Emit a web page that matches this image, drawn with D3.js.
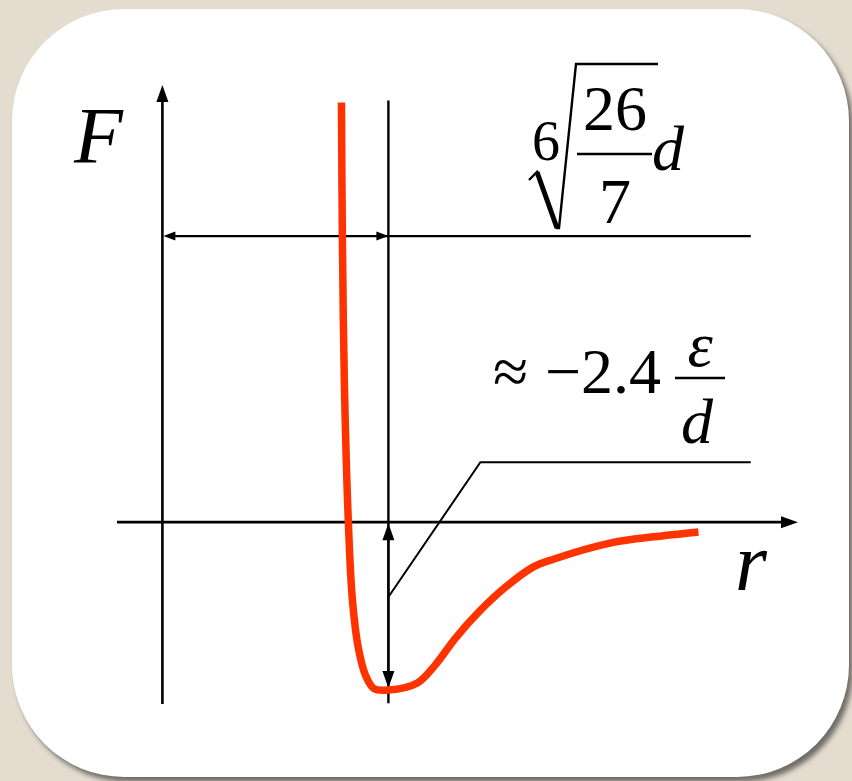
<!DOCTYPE html>
<html>
<head>
<meta charset="utf-8">
<script src="https://cdn.jsdelivr.net/npm/d3@7"></script>
<style>
  svg text { font-family: "Liberation Serif", Tinos, "Times New Roman", serif !important; }
</style>
</head>
<body style="margin:0; background-color:#e3dccf; background-image: radial-gradient(ellipse 220px 90px at 60px 60px, rgba(160,150,130,0.18), rgba(160,150,130,0)), radial-gradient(ellipse 160px 260px at 20px 460px, rgba(170,160,140,0.2), rgba(170,160,140,0)), radial-gradient(ellipse 200px 120px at 820px 720px, rgba(150,140,120,0.18), rgba(150,140,120,0)), radial-gradient(ellipse 300px 40px at 520px 4px, rgba(170,160,140,0.15), rgba(170,160,140,0));">
<div id="card" style="position:absolute; left:12px; top:9px; width:837px; height:768px; border-radius:112px; background:#fff; box-shadow:4px 5px 5px rgba(0,0,0,0.5);"></div>
<script>
// Lennard-Jones force between two molecules, F(r), in units of ε/d against r in units of d.
const rValues     = [0.986, 0.991, 1.002, 1.024, 1.046, 1.079, 1.12, 1.165, 1.2445, 1.404, 1.503, 1.613, 1.740, 1.889, 2.043, 2.153, 2.483, 2.704, 2.952];
const forceValues = [6.0,   4.1,   2.0,   0,     -1.1,  -1.8,  -2.2, -2.38, -2.4,   -2.30, -2.04, -1.66, -1.29, -0.93, -0.64, -0.53, -0.29, -0.21, -0.14];

// Equilibrium-force distance (26/7)^(1/6) d and the minimum force there.
const rMin = Math.pow(26 / 7, 1 / 6);
const fMin = -2.4;

// Axis extents (data units).
const rExtent = [-0.25, 3.5];
const fExtent = [-2.6, 6.25];

(function drawForceDiagram() {
  const W = 852, H = 781;
  const svg = d3.select("body").append("svg")
    .attr("width", W).attr("height", H)
    .style("position", "absolute").style("left", "0px").style("top", "0px");

  const xScale = d3.scaleLinear().domain(rExtent).range([117, 798]);
  const yScale = d3.scaleLinear().domain(fExtent).range([704, 85]);

  const layer = svg.append("g");

  function arrowHead(tipX, tipY, dirX, dirY, len, half) {
    const bx = tipX - dirX * len, by = tipY - dirY * len;
    const px = -dirY, py = dirX;
    layer.append("path")
      .attr("d", `M${tipX},${tipY}L${bx + px * half},${by + py * half}L${bx - px * half},${by - py * half}Z`)
      .attr("fill", "#000");
  }
  function seg(x1, y1, x2, y2, w) {
    layer.append("line").attr("x1", x1).attr("y1", y1).attr("x2", x2).attr("y2", y2)
      .attr("stroke", "#000").attr("stroke-width", w);
  }
  function mathText(xp, yp, size, str, italic, anchor) {
    const t = layer.append("text").attr("x", xp).attr("y", yp)
      .attr("font-family", "Liberation Serif, Tinos, Times New Roman, serif")
      .style("font-family", "Liberation Serif, Tinos, Times New Roman, serif", "important")
      .attr("font-size", size);
    if (italic) t.attr("font-style", "italic");
    if (anchor) t.attr("text-anchor", anchor);
    return t.text(str);
  }

  // F axis (vertical) with arrow
  seg(xScale(0), yScale(fExtent[0]), xScale(0), yScale(fExtent[1]) + 14, 2.6);
  arrowHead(xScale(0), yScale(fExtent[1]), 0, -1, 17, 6);

  // r axis (horizontal) with arrow
  seg(xScale(rExtent[0]), yScale(0), xScale(rExtent[1]) - 14, yScale(0), 2.6);
  arrowHead(xScale(rExtent[1]), yScale(0), 1, 0, 17, 6);

  // Vertical marker at r = rMin
  seg(xScale(rMin), yScale(6.03), xScale(rMin), yScale(-2.59), 2.4);

  // Dimension line for rMin
  const fDim = 4.09;
  seg(xScale(0) + 8, yScale(fDim), xScale(3.24), yScale(fDim), 2.2);
  arrowHead(xScale(0) + 1, yScale(fDim), -1, 0, 12, 4.5);
  arrowHead(xScale(rMin), yScale(fDim), 1, 0, 12, 4.5);

  // Double arrow for the minimum force
  seg(xScale(rMin), yScale(0) + 10, xScale(rMin), yScale(fMin) - 10, 2.2);
  arrowHead(xScale(rMin), yScale(0) + 1, 0, -1, 17, 6);
  arrowHead(xScale(rMin), yScale(fMin) - 2, 0, 1, 17, 6);

  // Leader from the minimum-force label
  layer.append("path")
    .attr("d", `M${xScale(3.24)},${yScale(0.857)}L${xScale(1.751)},${yScale(0.857)}L${xScale(rMin)},${yScale(-1.07)}`)
    .attr("fill", "none").attr("stroke", "#000").attr("stroke-width", 2);

  // Force curve
  const pts = rValues.map((r, i) => [r, forceValues[i]]);
  layer.append("path")
    .datum(pts)
    .attr("d", d3.line().x(d => xScale(d[0])).y(d => yScale(d[1])).curve(d3.curveCatmullRom.alpha(0.5)))
    .attr("fill", "none").attr("stroke", "#ff3300").attr("stroke-width", 7.5)
    .attr("stroke-linejoin", "round");

  // Axis letters
  mathText(74, 163, 80, "F", true);
  mathText(735, 590, 82, "r", true);

  // Label: sixth root of 26/7 times d
  mathText(532, 160, 56, "6");
  layer.append("path")
    .attr("d", "M529,180 L537,172 L557,228 L559,228 L576,64 L658,64")
    .attr("fill", "none").attr("stroke", "#000").attr("stroke-width", 2.4).attr("stroke-linejoin", "miter");
  layer.append("path").attr("d", "M537,172 L557,228").attr("stroke", "#000").attr("stroke-width", 5);
  mathText(615, 130, 64, "26", false, "middle");
  seg(577, 154, 652, 154, 2.6);
  mathText(615, 223, 64, "7", false, "middle");
  mathText(652, 170, 64, "d", true);

  // Label: ≈ −2.4 ε/d
  mathText(493, 393, 64, "≈");
  mathText(545, 393, 64, "−" + Math.abs(fMin).toFixed(1));
  seg(675, 378, 725, 378, 2.6);
  mathText(700, 366, 64, "ε", true, "middle");
  mathText(697, 443, 64, "d", true, "middle");
})();
</script>
</body>
</html>
